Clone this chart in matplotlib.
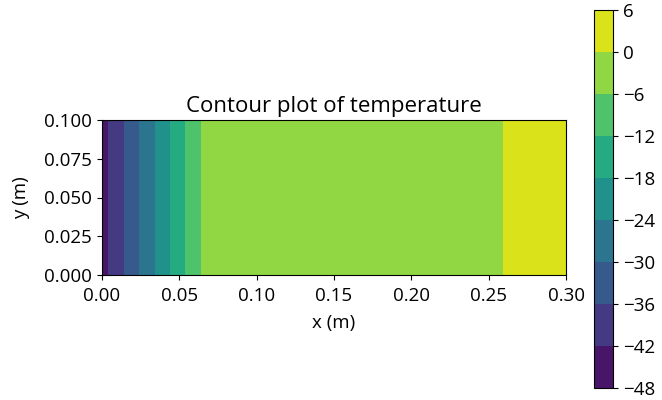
import numpy as np
import matplotlib
matplotlib.use("Agg")
import matplotlib.pyplot as plt

plt.rcParams['font.family'] = ['Open Sans', 'DejaVu Sans']

# Temperature profile along x (varies only with x), sampled on a grid
x_m = [0.00, 0.01, 0.02, 0.03, 0.04, 0.05, 0.06, 0.07, 0.08, 0.09, 0.10,
       0.11, 0.12, 0.13, 0.14, 0.15, 0.16, 0.17, 0.18, 0.19, 0.20,
       0.21, 0.22, 0.23, 0.24, 0.25, 0.26, 0.27, 0.28, 0.29, 0.30]
temp_x = [-44.4, -38.4, -32.4, -26.4, -20.4, -14.4, -8.4, -2.4, -2.2, -2.0, -2.0,
          -2.0, -2.0, -2.0, -2.0, -2.0, -2.0, -2.0, -2.0, -2.0, -2.0,
          -2.0, -2.0, -1.8, -1.4, -0.9, 0.1, 1.0, 1.5, 2.0, 2.5]
y_m = [0.00, 0.05, 0.10]
levels = [-48, -42, -36, -30, -24, -18, -12, -6, 0, 6]
cbar_ticks = [6, 0, -6, -12, -18, -24, -30, -36, -42, -48]

X, Y = np.meshgrid(x_m, y_m)
T = np.tile(np.array(temp_x), (len(y_m), 1))

fig = plt.figure(figsize=(6.62, 4.0), dpi=100)
ax = fig.add_axes([0.154, 0.3125, 0.701, 0.3875])
cs = ax.contourf(X, Y, T, levels=levels, cmap="viridis")
ax.set_aspect("equal")
ax.set_xlim(0, 0.3)
ax.set_ylim(0, 0.1)
ax.set_xticks([0.00, 0.05, 0.10, 0.15, 0.20, 0.25, 0.30])
ax.set_yticks([0.000, 0.025, 0.050, 0.075, 0.100])
ax.set_xticklabels(["0.00", "0.05", "0.10", "0.15", "0.20", "0.25", "0.30"])
ax.set_yticklabels(["0.000", "0.025", "0.050", "0.075", "0.100"])
ax.tick_params(labelsize=13.5)
ax.tick_params(axis="x", pad=5)
ax.set_xlabel("x (m)", fontsize=13.5, labelpad=6.5)
ax.set_ylabel("y (m)", fontsize=13.5, labelpad=10)
ax.set_title("Contour plot of temperature", fontsize=16)

cax = fig.add_axes([0.897, 0.03, 0.029, 0.945])
cb = fig.colorbar(cs, cax=cax)
cb.set_ticks(cbar_ticks)
cb.ax.tick_params(labelsize=13.5)

fig.savefig("out.png", dpi=100)
